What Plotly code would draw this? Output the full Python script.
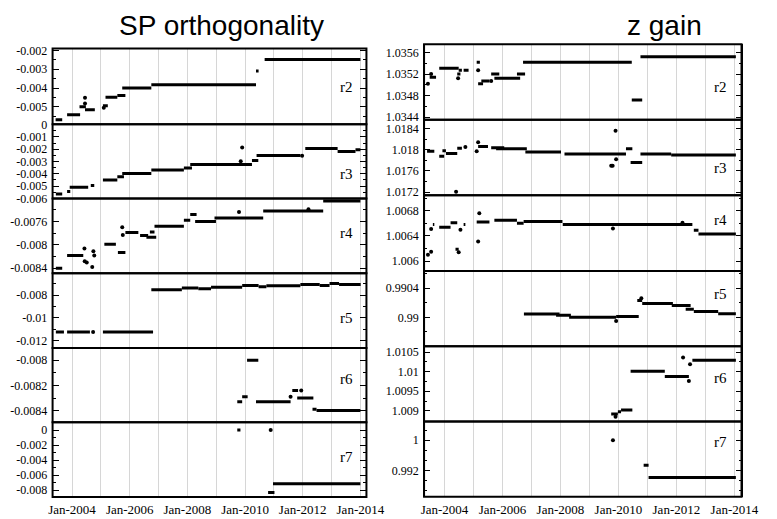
import datetime as dt
import plotly.graph_objects as go

W, H = 777, 519

# ---------------- data (decimal year start, decimal year end, value) ----------------
sp_r2_segments = [
    (2003.43, 2003.66, -0.00569), (2003.83, 2004.28, -0.00542), (2004.26, 2004.48, -0.00500),
    (2004.45, 2004.79, -0.00516), (2005.07, 2005.24, -0.00495), (2005.16, 2005.57, -0.00449),
    (2005.57, 2005.85, -0.00440), (2005.74, 2006.75, -0.00400), (2006.75, 2010.38, -0.00383),
    (2010.38, 2010.47, -0.00309), (2010.68, 2014.00, -0.00248),
]
sp_r2_points = [(2004.45, -0.00452), (2004.45, -0.00483), (2005.10, -0.00505)]

sp_r3_segments = [
    (2003.44, 2003.66, -0.00565), (2003.83, 2003.94, -0.00544), (2003.92, 2004.56, -0.00510),
    (2004.65, 2004.77, -0.00496), (2005.07, 2005.57, -0.00451), (2005.57, 2005.80, -0.00425),
    (2005.74, 2006.75, -0.00398), (2006.75, 2007.88, -0.00369), (2007.88, 2008.16, -0.00353),
    (2008.10, 2010.24, -0.00324), (2010.24, 2010.46, -0.00292), (2010.40, 2011.92, -0.00252),
    (2012.09, 2013.21, -0.00194), (2013.21, 2013.83, -0.00218), (2013.83, 2014.00, -0.00205),
]
sp_r3_points = [(2009.90, -0.00187), (2009.85, -0.00298), (2011.98, -0.00254)]

sp_r4_segments = [
    (2003.44, 2003.66, -0.00840), (2003.83, 2004.39, -0.00818), (2005.12, 2005.52, -0.00799),
    (2005.59, 2005.85, -0.00813), (2005.85, 2006.30, -0.00779), (2006.36, 2006.64, -0.00784),
    (2006.58, 2006.92, -0.00787), (2006.70, 2006.86, -0.00778), (2006.86, 2007.88, -0.00768),
    (2007.88, 2008.10, -0.00758), (2008.10, 2008.32, -0.00748), (2008.27, 2008.99, -0.00760),
    (2008.94, 2010.63, -0.00754), (2010.63, 2012.71, -0.00742), (2012.71, 2014.00, -0.00725),
]
sp_r4_points = [
    (2004.43, -0.00806), (2004.44, -0.00828), (2004.51, -0.00830), (2004.70, -0.00838),
    (2004.74, -0.00811), (2004.77, -0.00818), (2005.74, -0.00770), (2005.76, -0.00783),
    (2009.79, -0.00744), (2012.20, -0.00739),
]

sp_r5_segments = [
    (2003.44, 2003.72, -0.01123), (2003.83, 2004.62, -0.01123), (2005.07, 2006.81, -0.01123),
    (2006.75, 2007.81, -0.00752), (2007.81, 2008.38, -0.00737), (2008.38, 2008.82, -0.00743),
    (2008.82, 2009.90, -0.00729), (2009.90, 2010.47, -0.00715), (2010.47, 2010.74, -0.00726),
    (2010.74, 2011.92, -0.00717), (2011.92, 2012.59, -0.00706), (2012.59, 2012.93, -0.00715),
    (2012.93, 2013.26, -0.00697), (2013.26, 2014.01, -0.00706),
]
sp_r5_points = [(2004.73, -0.01123)]

sp_r6_segments = [
    (2009.73, 2009.90, -0.00833), (2009.90, 2010.09, -0.00829), (2010.07, 2010.46, -0.00800),
    (2010.38, 2011.58, -0.00833), (2011.64, 2011.84, -0.00824), (2011.81, 2012.37, -0.00830),
    (2012.34, 2012.48, -0.00839), (2012.48, 2014.00, -0.00840),
]
sp_r6_points = [(2011.58, -0.00829), (2011.95, -0.00824)]

sp_r7_segments = [
    (2009.73, 2009.84, 0.0), (2010.80, 2011.02, -0.00831), (2010.97, 2014.00, -0.00714),
]
sp_r7_points = [(2010.89, 0.0)]

zg_r2_segments = [
    (2003.49, 2003.71, 1.03514), (2003.82, 2004.49, 1.03531), (2004.44, 2004.55, 1.03520),
    (2004.49, 2004.60, 1.03527), (2004.66, 2004.83, 1.03527), (2005.11, 2005.22, 1.03542),
    (2005.16, 2005.33, 1.03502), (2005.27, 2005.55, 1.03507), (2005.61, 2005.89, 1.03520),
    (2005.72, 2006.61, 1.03512), (2006.50, 2006.78, 1.03520), (2006.71, 2010.46, 1.03542),
    (2010.46, 2010.82, 1.03472), (2010.76, 2014.05, 1.03552),
]
zg_r2_points = [(2003.43, 1.03502), (2003.54, 1.03520), (2004.47, 1.03512), (2005.16, 1.03527),
                (2005.61, 1.03507)]

zg_r3_segments = [
    (2003.40, 2003.65, 1.01797), (2003.82, 2003.99, 1.01788), (2003.93, 2004.05, 1.01798),
    (2004.05, 2004.44, 1.01793), (2004.44, 2004.60, 1.01803), (2005.16, 2005.50, 1.01806),
    (2005.61, 2006.06, 1.01804), (2005.78, 2006.84, 1.01802), (2006.79, 2008.02, 1.01796),
    (2008.14, 2010.26, 1.01792), (2010.26, 2010.48, 1.01802), (2010.42, 2010.82, 1.01776),
    (2010.76, 2011.82, 1.01792), (2011.82, 2014.05, 1.01790),
]
zg_r3_points = [(2004.40, 1.01721), (2004.72, 1.01805), (2005.11, 1.01797), (2005.16, 1.01814),
                (2009.75, 1.01770), (2009.80, 1.01770), (2009.90, 1.01836), (2009.92, 1.01782)]

zg_r4_segments = [
    (2003.60, 2003.65, 1.00658), (2003.82, 2004.21, 1.00654), (2004.21, 2004.44, 1.00661),
    (2004.38, 2004.49, 1.00619), (2004.66, 2004.72, 1.00658), (2005.11, 2005.55, 1.00662),
    (2005.72, 2006.50, 1.00665), (2006.50, 2006.73, 1.00660), (2006.73, 2008.07, 1.00663),
    (2008.08, 2012.55, 1.00658), (2012.60, 2012.76, 1.00649), (2012.76, 2014.05, 1.00643),
]
zg_r4_points = [(2003.43, 1.00610), (2003.54, 1.00615), (2003.54, 1.00651), (2004.49, 1.00614),
                (2004.55, 1.00650), (2005.20, 1.00676), (2005.16, 1.00631), (2009.81, 1.00652),
                (2012.21, 1.00661)]

zg_r5_segments = [
    (2006.74, 2007.97, 0.990044), (2007.85, 2008.36, 0.990027), (2008.30, 2009.92, 0.990000),
    (2009.92, 2010.70, 0.990010), (2010.65, 2010.82, 0.990230), (2010.82, 2011.88, 0.990190),
    (2011.84, 2012.49, 0.990160), (2012.32, 2012.60, 0.990110), (2012.60, 2013.44, 0.990080),
    (2013.44, 2014.05, 0.990050),
]
zg_r5_points = [(2009.92, 0.98995), (2010.79, 0.99026)]

zg_r6_segments = [
    (2009.75, 2009.98, 1.00892), (2009.98, 2010.09, 1.00898), (2010.09, 2010.48, 1.00902),
    (2010.42, 2011.60, 1.01001), (2011.60, 2012.43, 1.00988), (2012.55, 2014.05, 1.01029),
]
zg_r6_points = [(2012.23, 1.01036), (2012.43, 1.00976), (2012.47, 1.01019), (2009.90, 1.00885)]

zg_r7_segments = [(2010.87, 2011.04, 0.99339), (2011.04, 2014.05, 0.99019)]
zg_r7_points = [(2009.81, 1.0)]

# ---------------- tick labels ----------------
sp_tick_labels = [
    ["-0.005", "-0.004", "-0.003", "-0.002"],
    ["-0.006", "-0.005", "-0.004", "-0.003", "-0.002", "-0.001", "0"],
    ["-0.0084", "-0.008", "-0.0076"],
    ["-0.012", "-0.01", "-0.008"],
    ["-0.0084", "-0.0082", "-0.008"],
    ["-0.008", "-0.006", "-0.004", "-0.002", "0"],
]
zg_tick_labels = [
    ["1.0344", "1.0348", "1.0352", "1.0356"],
    ["1.0172", "1.0176", "1.018", "1.0184"],
    ["1.006", "1.0064", "1.0068"],
    ["0.99", "0.9904"],
    ["1.009", "1.0095", "1.01", "1.0105"],
    ["0.992", "1"],
]
x_tick_years = list(range(2004, 2015))
x_tick_labels = ["Jan-2004", "", "Jan-2006", "", "Jan-2008", "", "Jan-2010", "", "Jan-2012", "", "Jan-2014"]
panel_names = ["r2", "r3", "r4", "r5", "r6", "r7"]
titles = ["SP orthogonality", "z gain"]

# ---------------- layout geometry (pixels) ----------------
sp_ranges = [(-0.00593, -0.00189), (-0.006016, 0.00003), (-0.008483, -0.007208),
             (-0.01263, -0.00606), (-0.008493, -0.007902), (-0.00888, 0.00104)]
zg_ranges = [(1.034351, 1.035752), (1.017145, 1.018565), (1.005845, 1.007048),
             (0.989604, 0.990635), (1.008725, 1.01065), (0.98514, 1.0049)]
sp_minor = [0.0005, 0.0005, 0.0002, 0.001, 0.0001, 0.001]
zg_minor = [0.0002, 0.0002, 0.0002, 0.0002, 0.00025, 0.008 / 3]

col_x = [(50, 373), (432.3, 759)]
col_xrange = [(2003.326, 2014.21), (2003.296, 2014.245)]
col_y = [[43.5, 121.3, 197.5, 274, 350.7, 427, 503.5],
         [39.3, 116.7, 194, 271.7, 349, 426.3, 503.3]]
label_y = [[83, 172, 233, 320, 383, 463], [83, 166, 220, 295, 382, 447]]
label_x = [352, 737]
title_x = [224, 680]


def yr(d):
    y = int(d)
    start = dt.datetime(y, 1, 1)
    end = dt.datetime(y + 1, 1, 1)
    return start + (end - start) * (d - y)


def seg_xy(segs):
    xs, ys = [], []
    for a, b, v in segs:
        xs += [yr(a), yr(b), None]
        ys += [v, v, None]
    return xs, ys


data = [
    [sp_r2_segments, sp_r3_segments, sp_r4_segments, sp_r5_segments, sp_r6_segments, sp_r7_segments],
    [zg_r2_segments, zg_r3_segments, zg_r4_segments, zg_r5_segments, zg_r6_segments, zg_r7_segments],
]
pts = [
    [sp_r2_points, sp_r3_points, sp_r4_points, sp_r5_points, sp_r6_points, sp_r7_points],
    [zg_r2_points, zg_r3_points, zg_r4_points, zg_r5_points, zg_r6_points, zg_r7_points],
]
ranges = [sp_ranges, zg_ranges]
minors = [sp_minor, zg_minor]
tlabels = [sp_tick_labels, zg_tick_labels]

fig = go.Figure()
layout = dict(width=W, height=H, margin=dict(l=0, r=0, t=0, b=0),
              paper_bgcolor="white", plot_bgcolor="white", showlegend=False)
annotations = []
shapes = []
tick_font = dict(family="Liberation Serif", size=12, color="black")
xtick_font = dict(family="Liberation Serif", size=13, color="black")

for c in range(2):
    x0, x1 = col_x[c]
    for r in range(6):
        n = c * 6 + r + 1
        xa = "x" if n == 1 else f"x{n}"
        ya = "y" if n == 1 else f"y{n}"
        sx, sy = seg_xy(data[c][r])
        fig.add_trace(go.Scatter(x=sx, y=sy, mode="lines", xaxis=xa, yaxis=ya,
                                 line=dict(color="black", width=3), hoverinfo="skip"))
        p = pts[c][r]
        fig.add_trace(go.Scatter(x=[yr(a) for a, _ in p], y=[v for _, v in p], mode="markers",
                                 xaxis=xa, yaxis=ya,
                                 marker=dict(color="black", size=4), hoverinfo="skip"))
        top, bot = col_y[c][r], col_y[c][r + 1]
        bottom_row = (r == 5)
        layout["xaxis" if n == 1 else f"xaxis{n}"] = dict(
            domain=[x0 / W, x1 / W], anchor=ya, type="date",
            range=[yr(col_xrange[c][0]), yr(col_xrange[c][1])],
            tickmode="array", tickvals=[dt.datetime(y, 1, 1) for y in x_tick_years],
            ticktext=x_tick_labels, showticklabels=bottom_row, ticks="",
            ticklabelstandoff=3,
            showgrid=True, gridcolor="#d6d6d6", gridwidth=1,
            showline=False, zeroline=False, tickfont=xtick_font, fixedrange=True,
        )
        labels = tlabels[c][r]
        tv = [float(s) for s in labels]
        layout["yaxis" if n == 1 else f"yaxis{n}"] = dict(
            domain=[1 - bot / H, 1 - top / H], anchor=xa,
            range=list(ranges[c][r]),
            tickmode="array", tickvals=tv, ticktext=labels,
            ticks="inside", ticklen=6, tickwidth=1, tickcolor="black",
            minor=dict(tickmode="linear", tick0=tv[0], dtick=minors[c][r], ticks="inside",
                       ticklen=3, tickwidth=1, tickcolor="black", showgrid=False),
            showgrid=False, zeroline=False,
            showline=True, linewidth=1, linecolor="black", mirror="ticks",
            ticklabelstandoff=2,
            tickfont=tick_font, fixedrange=True,
        )
        annotations.append(dict(text=panel_names[r], xref="paper", yref="paper",
                                x=label_x[c] / W, y=1 - label_y[c][r] / H,
                                xanchor="center", yanchor="middle", showarrow=False,
                                font=dict(family="Liberation Serif", size=15, color="black")))
        # panel frame
        shapes.append(dict(type="rect", xref="paper", yref="paper",
                           x0=x0 / W, x1=x1 / W, y0=1 - bot / H, y1=1 - top / H,
                           line=dict(color="black", width=2), fillcolor="rgba(0,0,0,0)",
                           layer="above"))
    annotations.append(dict(text=titles[c], xref="paper", yref="paper",
                            x=title_x[c] / W, y=1 - 20 / H, xanchor="center", yanchor="middle",
                            showarrow=False,
                            font=dict(family="Liberation Sans", size=28, color="black")))

layout["annotations"] = annotations
layout["shapes"] = shapes
fig.update_layout(**layout)
fig.write_html("out.html")
